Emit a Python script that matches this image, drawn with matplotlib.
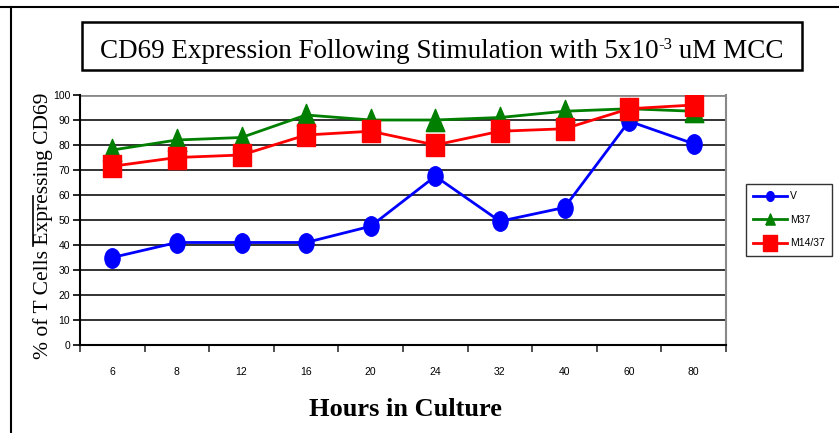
import numpy as np
import matplotlib
matplotlib.use('Agg')
import matplotlib.pyplot as plt
from matplotlib.path import Path
from matplotlib.patches import Rectangle
from matplotlib.lines import Line2D
from matplotlib import font_manager

hours = ['6', '8', '12', '16', '20', '24', '32', '40', '60', '80']
v = [35, 41, 41, 41, 47.5, 67.5, 49.5, 55, 89.5, 80.5]
m37 = [78, 82, 83, 92, 90, 90, 91, 93.5, 94.5, 93.5]
m14_37 = [71.5, 75, 76, 84, 85.5, 80, 85.5, 86.5, 94.5, 96]

serif = ['Liberation Serif', 'DejaVu Serif']
names = {f.name for f in font_manager.fontManager.ttflist}
sans = ['Liberation Sans Narrow', 'DejaVu Sans'] if 'Liberation Sans Narrow' in names else ['Liberation Sans', 'DejaVu Sans']

W, H = 839, 433
fig = plt.figure(figsize=(W / 100, H / 100), dpi=100)

def fx(px):
    return px / W

def fy(py):
    return 1 - py / H

# outer frame lines
fig.add_artist(Line2D([fx(0), fx(W)], [fy(7), fy(7)], color='black', lw=1.5))
fig.add_artist(Line2D([fx(11), fx(11)], [fy(7), fy(H)], color='black', lw=1.5))

# title box
box = Rectangle((fx(82), fy(70)), fx(802) - fx(82), fy(22) - fy(70),
                transform=fig.transFigure, fill=False, ec='black', lw=1.8)
fig.add_artist(box)
clip = Rectangle((fx(82), fy(65)), fx(802) - fx(82), fy(22) - fy(65),
                 transform=fig.transFigure, fill=False, lw=0)

# title built from pieces so the exponent can be raised
renderer = fig.canvas.get_renderer()
pieces = [('CD69 Expression Following Stimulation with 5x10', 0, 19.5),
          ('-3', 9, 12),
          (' uM MCC', 0, 19.5)]
texts = []
for s, rise, size in pieces:
    texts.append(fig.text(0, fy(58 - rise), s, ha='left', va='baseline',
                          family=serif, fontsize=size))
widths = [tt.get_window_extent(renderer).width for tt in texts]
xpos = 442 - sum(widths) / 2
for tt, w in zip(texts, widths):
    tt.set_x(fx(xpos))
    tt.set_clip_path(clip)
    xpos += w

ax = fig.add_axes([fx(80), fy(345), fx(726) - fx(80), fy(95) - fy(345)])
x = np.arange(len(hours))

ell = Path.unit_circle().transformed(matplotlib.transforms.Affine2D().scale(0.78, 1.0))
tri = Path([(-0.42, -0.5), (0.42, -0.5), (0, 0.5), (-0.42, -0.5)])
sq = Path([(-0.4, -0.5), (0.4, -0.5), (0.4, 0.5), (-0.4, 0.5), (-0.4, -0.5)])

ax.plot(x, v, color='#0000ff', lw=2, marker=ell, ms=14, label='V', zorder=3)
ax.plot(x, m37, color='#007f00', lw=2, marker=tri, ms=16, label='M37', zorder=3)
ax.plot(x, m14_37, color='#ff0000', lw=2, marker=sq, ms=16, label='M14/37', zorder=4)

ax.set_xlim(-0.5, len(hours) - 0.5)
ax.set_ylim(0, 100)
ax.set_yticks(range(0, 101, 10))
for yv in range(10, 100, 10):
    ax.axhline(yv, color='#222222', lw=1.3, zorder=1)
ax.axhline(100, color='#888888', lw=2, zorder=1)

ax.set_xticks(x)
ax.set_xticklabels(hours)
ax.set_xticks(np.arange(-0.5, len(hours)), minor=True)
ax.tick_params(axis='x', which='major', length=0, pad=16)
ax.tick_params(axis='x', which='minor', length=5, width=1.2, color='#333333', direction='out')
ax.tick_params(axis='y', length=5, width=1.2, direction='out', pad=2)
for lab in ax.get_xticklabels() + ax.get_yticklabels():
    lab.set_family(sans)
    lab.set_fontsize(7.5)

ax.spines['left'].set_linewidth(1.5)
ax.spines['bottom'].set_linewidth(1.5)
ax.spines['top'].set_visible(False)
ax.spines['right'].set_color('#888888')
ax.spines['right'].set_linewidth(1.5)

fig.text(fx(43), fy(226), '% of T Cells Expressing CD69', rotation=90, ha='center', va='center',
         family=serif, fontsize=15.5)
fig.add_artist(Line2D([fx(33), fx(33)], [fy(196), fy(246)], color='black', lw=1.2))

fig.text(fx(405), fy(409), 'Hours in Culture', ha='center', va='center',
         family=serif, fontweight='bold', fontsize=19)

leg = fig.legend(loc='upper left', bbox_to_anchor=(fx(746), fy(184)), frameon=True,
                 fancybox=False, edgecolor='black', borderpad=0.7, labelspacing=1.3,
                 handlelength=3.2, handletextpad=0.3, borderaxespad=0,
                 prop={'family': sans, 'size': 7.5})
leg.get_frame().set_linewidth(1)
hs = leg.legend_handles
hs[0].set_markersize(7)
hs[1].set_markersize(8)
hs[2].set_markersize(12)

fig.savefig('out.png', dpi=100)
